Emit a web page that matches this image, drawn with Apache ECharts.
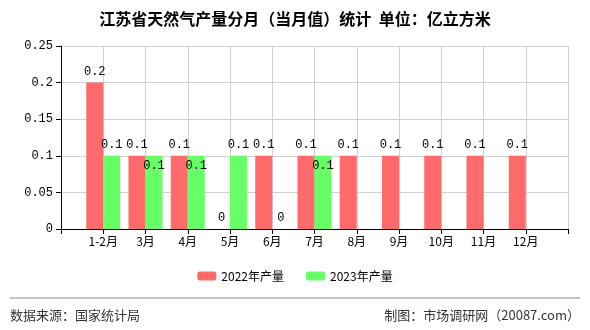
<!DOCTYPE html>
<html><head><meta charset="utf-8">
<script src="https://cdn.jsdelivr.net/npm/echarts@6/dist/echarts.min.js"></script>
<style>html,body{margin:0;padding:0;background:#fff}#c{width:590px;height:330px}</style>
</head><body><div id="c"></div>
<script>
const categories = ['1-2月','3月','4月','5月','6月','7月','8月','9月','10月','11月','12月'];
const output2022 = [0.2,0.1,0.1,0,0.1,0.1,0.1,0.1,0.1,0.1,0.1];
const output2023 = [0.1,0.1,0.1,0.1,0,0.1,null,null,null,null,null];
const yTicks = [0,0.05,0.1,0.15,0.2,0.25];

const pad = a => [null].concat(a, [null]);
const cats = [''].concat(categories, ['']);
const FONT = '"Liberation Mono", "Noto Sans CJK SC", monospace';
const labelStyle = {show:true, position:'top', color:'#000', fontSize:12, fontFamily:FONT,
  formatter: p => p.value == null ? '' : String(p.value)};

const chart = echarts.init(document.getElementById('c'), null, {renderer:'canvas'});
chart.setOption({
  animation:false,
  title:{text:'江苏省天然气产量分月（当月值）统计  单位：亿立方米', left:'center', top:6,
    textStyle:{fontSize:16, fontWeight:'bold', color:'#000', fontFamily:'"Noto Sans CJK SC", sans-serif'}},
  legend:{data:['2022年产量','2023年产量'], bottom:43, left:'center', itemWidth:19, itemHeight:9, itemGap:22,
    textStyle:{fontSize:12, color:'#000', fontFamily:'"Noto Sans CJK SC", sans-serif'}},
  grid:{left:61, right:22, top:46, bottom:101},
  xAxis:{type:'category', data:cats, boundaryGap:false,
    axisLine:{lineStyle:{color:'#000'}}, axisTick:{show:true, length:5, lineStyle:{color:'#000'}},
    axisLabel:{interval:0, color:'#000', fontSize:12, margin:6, fontFamily:'"Noto Sans CJK SC", sans-serif'},
    splitLine:{show:true, lineStyle:{color:'#d0d0d0'}}},
  yAxis:{type:'value', min:yTicks[0], max:yTicks[yTicks.length-1], interval:0.05,
    axisLine:{show:true, lineStyle:{color:'#000'}}, axisTick:{show:true, length:5, lineStyle:{color:'#000'}},
    axisLabel:{color:'#000', fontSize:12, margin:8, fontFamily:FONT},
    splitLine:{lineStyle:{color:'#d0d0d0'}}},
  series:[
    {name:'2022年产量', type:'bar', data:pad(output2022), barWidth:17, barGap:'0%',
     itemStyle:{color:'#ff6a6a'}, label:labelStyle},
    {name:'2023年产量', type:'bar', data:pad(output2023), barWidth:17, barGap:'0%',
     itemStyle:{color:'#66ff66'}, label:labelStyle,
     labelLayout: p => {
       const i = p.dataIndex - 1;
       if (i >= 0 && output2022[i] != null && output2023[i] != null && output2022[i] === output2023[i] && output2023[i] > 0) return {dy:21};
       return {};
     }}
  ],
  graphic:[
    {type:'line', shape:{x1:10, y1:298, x2:580, y2:298}, style:{stroke:'#888', lineWidth:1}},
    {type:'text', left:10, top:309, style:{text:'数据来源：国家统计局', fill:'#333', font:'13px "Noto Sans CJK SC", sans-serif'}},
    {type:'text', right:10, top:309, style:{text:'制图：市场调研网（20087.com）', fill:'#333', font:'13px "Noto Sans CJK SC", sans-serif'}}
  ]
});
</script></body></html>
